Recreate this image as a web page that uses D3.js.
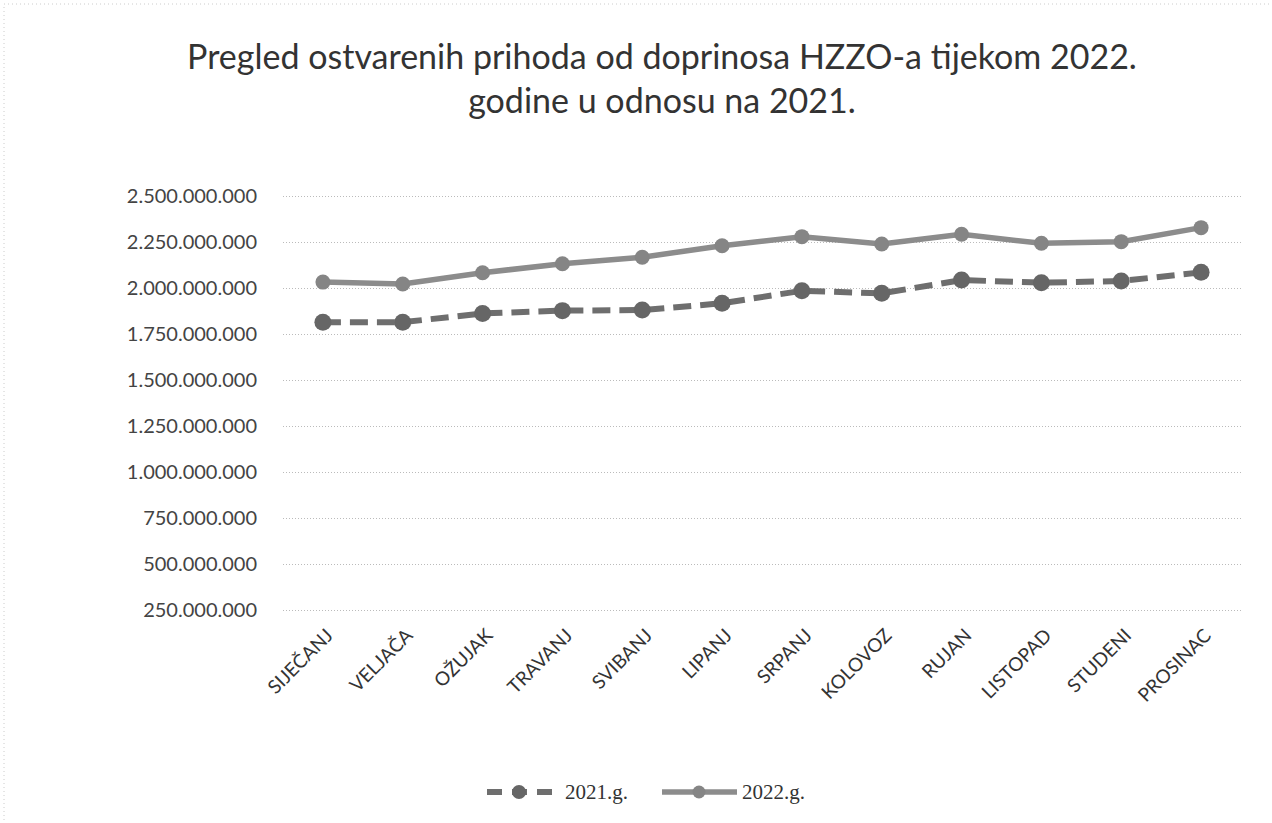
<!DOCTYPE html>
<html>
<head>
<meta charset="utf-8">
<script src="https://cdn.jsdelivr.net/npm/d3@7"></script>
<style>
  body { margin: 0; background: #fff; }
  svg { font-family: Lato, "Open Sans", sans-serif; }
</style>
</head>
<body>
<svg width="1272" height="823"></svg>
<script>
var months = ["SIJEČANJ", "VELJAČA", "OŽUJAK", "TRAVANJ", "SVIBANJ", "LIPANJ", "SRPANJ", "KOLOVOZ", "RUJAN", "LISTOPAD", "STUDENI", "PROSINAC"];
var values2021 = [1814e6, 1814e6, 1862e6, 1877e6, 1880e6, 1917e6, 1985e6, 1971e6, 2043e6, 2029e6, 2038e6, 2085e6];
var values2022 = [2032e6, 2022e6, 2083e6, 2132e6, 2167e6, 2230e6, 2279e6, 2239e6, 2292e6, 2243e6, 2252e6, 2328e6];
var yTicks = [250e6, 500e6, 750e6, 1000e6, 1250e6, 1500e6, 1750e6, 2000e6, 2250e6, 2500e6];
var titleLines = ["Pregled ostvarenih prihoda od doprinosa HZZO-a tijekom 2022.", "godine u odnosu na 2021."];

var svg = d3.select("svg");
var plotL = 283, plotR = 1241, plotT = 196, plotB = 610;

// faint chart border like the scanned original
svg.append("rect").attr("x", 4).attr("y", 4).attr("width", 1290).attr("height", 900)
  .attr("fill", "none").attr("stroke", "#ccc").attr("stroke-dasharray", "1,3");

var x = d3.scalePoint().domain(months).range([plotL, plotR]).padding(0.5);
var y = d3.scaleLinear().domain([250e6, 2500e6]).range([plotB, plotT]);

var fmt = function(v) { return d3.format(",")(v).replace(/,/g, "."); };

// title
svg.append("g").selectAll("text").data(titleLines).enter().append("text")
  .attr("x", 662).attr("y", function(d, i) { return 69 + i * 44; })
  .attr("text-anchor", "middle").attr("font-size", 34).attr("fill", "#333")
  .text(function(d) { return d; });

// grid + y labels
var yAxis = svg.append("g").attr("transform", "translate(" + plotL + ",0)")
  .call(d3.axisLeft(y).tickValues(yTicks).tickSize(-(plotR - plotL)).tickFormat(fmt).tickPadding(26));
yAxis.select(".domain").remove();
yAxis.selectAll(".tick line").attr("stroke", "#bbb").attr("stroke-dasharray", "1,2");
yAxis.selectAll(".tick text").attr("font-size", 20).attr("fill", "#444").attr("font-family", "Lato, sans-serif");

// x labels
var xAxis = svg.append("g").attr("transform", "translate(0," + plotB + ")")
  .call(d3.axisBottom(x).tickSize(0));
xAxis.select(".domain").remove();
xAxis.selectAll(".tick text")
  .attr("font-size", 19).attr("fill", "#333").attr("font-family", "Lato, sans-serif")
  .attr("text-anchor", "end")
  .attr("transform", "translate(6,22) rotate(-45)")
  .attr("dy", "0.35em").attr("y", 0);

var line = d3.line().x(function(d, i) { return x(months[i]); }).y(function(d) { return y(d); });

// 2022 solid
svg.append("path").datum(values2022).attr("d", line)
  .attr("fill", "none").attr("stroke", "#8c8c8c").attr("stroke-width", 5.5);
svg.append("g").selectAll("circle").data(values2022).enter().append("circle")
  .attr("cx", function(d, i) { return x(months[i]); }).attr("cy", function(d) { return y(d); })
  .attr("r", 7.5).attr("fill", "#858585");

// 2021 dashed
svg.append("path").datum(values2021).attr("d", line)
  .attr("fill", "none").attr("stroke", "#6e6e6e").attr("stroke-width", 6)
  .attr("stroke-dasharray", "18,9");
svg.append("g").selectAll("circle").data(values2021).enter().append("circle")
  .attr("cx", function(d, i) { return x(months[i]); }).attr("cy", function(d) { return y(d); })
  .attr("r", 8.5).attr("fill", "#666");

// legend
var lg = svg.append("g").attr("transform", "translate(0,792)");
lg.append("line").attr("x1", 487).attr("x2", 552).attr("stroke", "#6e6e6e").attr("stroke-width", 6).attr("stroke-dasharray", "15,10");
lg.append("circle").attr("cx", 519).attr("r", 7).attr("fill", "#666");
lg.append("text").attr("x", 565).attr("y", 7).attr("font-size", 21).attr("fill", "#333")
  .attr("font-family", "Liberation Serif, serif").text("2021.g.");
lg.append("line").attr("x1", 662).attr("x2", 737).attr("stroke", "#8c8c8c").attr("stroke-width", 5.5);
lg.append("circle").attr("cx", 699).attr("r", 6.5).attr("fill", "#858585");
lg.append("text").attr("x", 742).attr("y", 7).attr("font-size", 21).attr("fill", "#333")
  .attr("font-family", "Liberation Serif, serif").text("2022.g.");
</script>
</body>
</html>
